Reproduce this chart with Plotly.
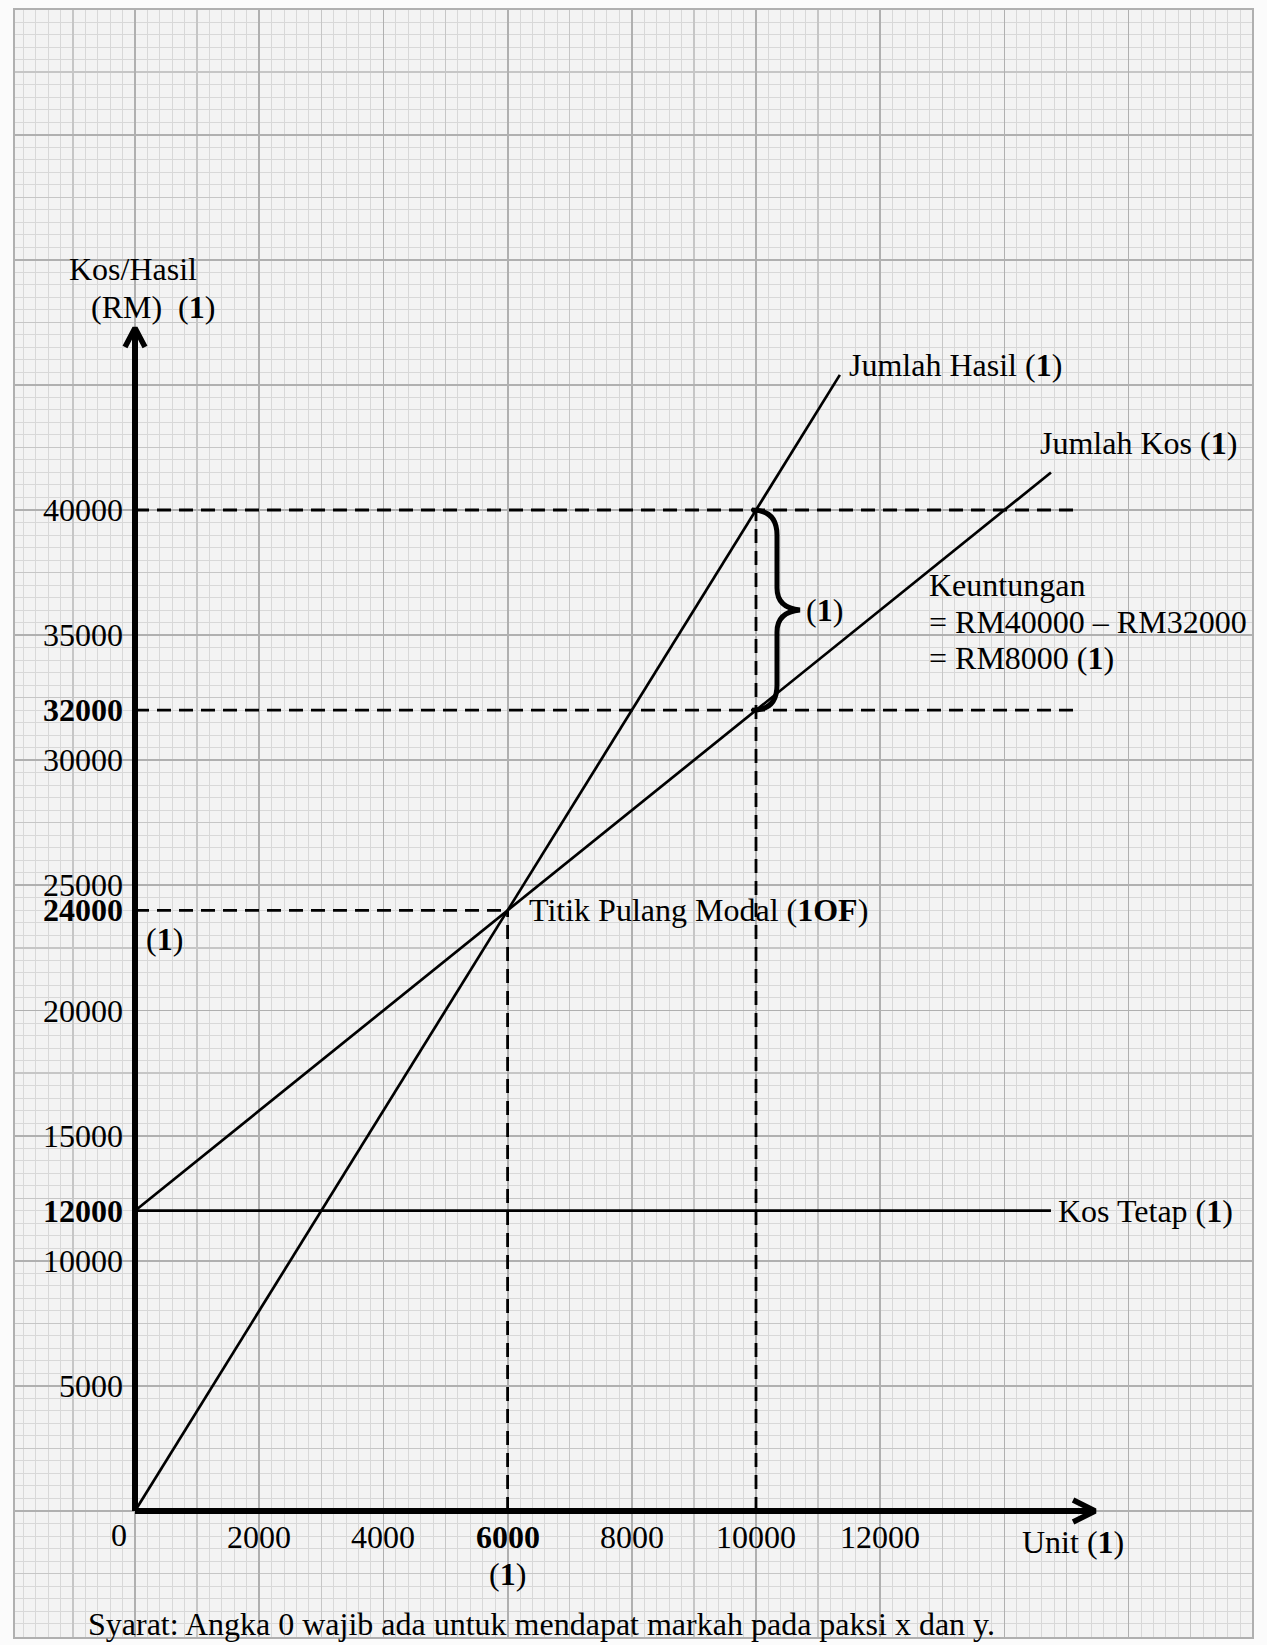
import plotly.graph_objects as go

# ---------------- data ----------------
hasil_x = [0, 11350]          # Jumlah Hasil (RM4 per unit)
hasil_y = [0, 45400]
kos_x = [0, 14750]            # Jumlah Kos
kos_y = [12000, 41500]
tetap_x = [0, 14750]          # Kos Tetap
tetap_y = [12000, 12000]

bep_unit, bep_value = 6000, 24000
sel_unit, sel_hasil, sel_kos = 10000, 40000, 32000
dash_end = 15150
x_axis_end = 15460
y_axis_end = 47270

x_tick_vals = [2000, 4000, 6000, 8000, 10000, 12000]
x_tick_text = ["2000", "4000", "<b>6000</b>", "8000", "10000", "12000"]
y_tick_vals = [5000, 10000, 12000, 15000, 20000, 24000, 25000, 30000, 32000, 35000, 40000]
y_tick_text = ["5000", "10000", "<b>12000</b>", "15000", "20000", "<b>24000</b>",
               "25000", "30000", "<b>32000</b>", "35000", "40000"]

# ---------------- layout geometry ----------------
W, H = 1267, 1645
X0PX, Y0PX = 135, 1511
PX_PER_X = 0.0621
PX_PER_Y = 0.025025
# graph-paper (plot area) edges in pixels
GL, GR, GT, GB = 15, 1252, 10, 1637

def ux(px):  # pixel offset -> data units (x)
    return px / PX_PER_X

def uy(px):  # pixel offset -> data units (y)
    return px / PX_PER_Y

def dx(px):
    return (px - X0PX) / PX_PER_X

def dy(py):
    return (Y0PX - py) / PX_PER_Y

x_range = [dx(GL), dx(GR)]
y_range = [dy(GB), dy(GT)]

FONT = "Liberation Serif"
FS = 32
MINOR_C = "#d8d8d8"
MID_C = "#c6c6c6"
MAJOR_C = "#b0b0b0"
PAPER_BG = "#fbfbfb"
GRID_BG = "#f3f3f3"

fig = go.Figure()

line_style = dict(color="black", width=2.7)
dash_style = dict(color="black", width=2.8, dash="14px,8px")

# dashed guide lines
for xs, ys in [
    ([0, dash_end], [sel_hasil, sel_hasil]),
    ([0, dash_end], [sel_kos, sel_kos]),
    ([0, bep_unit], [bep_value, bep_value]),
    ([bep_unit, bep_unit], [0, bep_value]),
    ([sel_unit, sel_unit], [0, sel_hasil]),
]:
    fig.add_trace(go.Scatter(x=xs, y=ys, mode="lines", line=dash_style, hoverinfo="skip"))

# main lines
fig.add_trace(go.Scatter(x=hasil_x, y=hasil_y, mode="lines", line=line_style, name="Jumlah Hasil"))
fig.add_trace(go.Scatter(x=kos_x, y=kos_y, mode="lines", line=line_style, name="Jumlah Kos"))
fig.add_trace(go.Scatter(x=tetap_x, y=tetap_y, mode="lines", line=line_style, name="Kos Tetap"))

# axes (thick arrows)
axis_style = dict(color="black", width=6)
fig.add_trace(go.Scatter(x=[0, x_axis_end], y=[0, 0], mode="lines", line=axis_style, hoverinfo="skip"))
fig.add_trace(go.Scatter(x=[0, 0], y=[0, y_axis_end], mode="lines", line=axis_style, hoverinfo="skip"))
fig.add_trace(go.Scatter(
    x=[x_axis_end - ux(22), x_axis_end, x_axis_end - ux(22)],
    y=[uy(11), 0, -uy(11)], mode="lines", line=dict(color="black", width=5.5), hoverinfo="skip"))
fig.add_trace(go.Scatter(
    x=[-ux(10), 0, ux(10)],
    y=[y_axis_end - uy(19), y_axis_end, y_axis_end - uy(19)], mode="lines",
    line=dict(color="black", width=5.5), hoverinfo="skip"))

# invisible trace on the heavy-grid overlay axes
fig.add_trace(go.Scatter(x=[0], y=[0], xaxis="x2", yaxis="y2", mode="markers",
                         marker=dict(opacity=0), hoverinfo="skip"))

# curly brace between 40000 and 32000
bx0 = sel_unit + ux(-4)
bx1 = sel_unit + ux(21)
btip = sel_unit + ux(44)
ymid = (sel_hasil + sel_kos) / 2
r = uy(25)
path = (
    f"M {bx0},{sel_hasil} "
    f"Q {bx1},{sel_hasil} {bx1},{sel_hasil - r} "
    f"L {bx1},{ymid + uy(22)} "
    f"Q {bx1},{ymid + uy(2)} {btip},{ymid} "
    f"Q {bx1},{ymid - uy(2)} {bx1},{ymid - uy(22)} "
    f"L {bx1},{sel_kos + r} "
    f"Q {bx1},{sel_kos} {bx0},{sel_kos}"
)

shapes = [
    dict(type="path", path=path, xref="x", yref="y", line=dict(color="black", width=5), layer="above"),
]

annotations = []

def ann(x, y, text, xanchor="center", yanchor="middle", xshift=0, yshift=0, size=FS):
    annotations.append(dict(x=x, y=y, xref="x", yref="y", text=text, showarrow=False,
                            xanchor=xanchor, yanchor=yanchor, xshift=xshift, yshift=yshift,
                            font=dict(family=FONT, size=size, color="black")))

for v, t in zip(y_tick_vals, y_tick_text):
    ann(0, v, t, xanchor="right", xshift=-10)
for v, t in zip(x_tick_vals, x_tick_text):
    ann(v, 0, t, yshift=-26)
ann(0, 0, "0", xshift=-16, yshift=-24)
ann(bep_unit, 0, "(<b>1</b>)", yshift=-63)
ann(0, bep_value, "(<b>1</b>)", xshift=29, yshift=-29)

ann(dx(133), dy(269), "Kos/Hasil")
ann(dx(153), dy(307), "(RM)  (<b>1</b>)")
ann(dx(1073), 0, "Unit (<b>1</b>)", yshift=-31)
ann(hasil_x[1], hasil_y[1], "Jumlah Hasil (<b>1</b>)", xanchor="left", xshift=7, yshift=10)
ann(dx(1038), dy(443), "Jumlah Kos (<b>1</b>)", xanchor="left")
ann(dx(927), dy(585), "Keuntungan", xanchor="left")
ann(dx(927), dy(622), "= RM40000 – RM32000", xanchor="left")
ann(dx(927), dy(658), "= RM8000 (<b>1</b>)", xanchor="left")
ann(btip, ymid, "(<b>1</b>)", xanchor="left", xshift=4)
ann(bep_unit, bep_value, "Titik Pulang Modal (<b>1OF</b>)", xanchor="left", xshift=19)
ann(tetap_x[1], tetap_y[1], "Kos Tetap (<b>1</b>)", xanchor="left", xshift=5)
ann(dx(86), dy(1624), "Syarat: Angka 0 wajib ada untuk mendapat markah pada paksi x dan y.",
    xanchor="left")

common_ax = dict(showticklabels=False, ticks="", zeroline=False, fixedrange=True)

fig.update_layout(
    width=W, height=H, autosize=False,
    margin=dict(l=GL, r=W - GR, t=GT, b=H - GB, pad=0),
    paper_bgcolor=PAPER_BG, plot_bgcolor=GRID_BG,
    showlegend=False,
    xaxis=dict(range=x_range, showgrid=True, gridcolor=MID_C, gridwidth=1.3, tick0=0, dtick=1000,
               minor=dict(showgrid=True, tick0=0, dtick=200, gridcolor=MINOR_C, gridwidth=1),
               showline=True, mirror=True, linecolor=MAJOR_C, linewidth=2,
               **common_ax),
    yaxis=dict(range=y_range, showgrid=True, gridcolor=MID_C, gridwidth=1.3, tick0=0, dtick=2500,
               minor=dict(showgrid=True, tick0=0, dtick=500, gridcolor=MINOR_C, gridwidth=1),
               showline=True, mirror=True, linecolor=MAJOR_C, linewidth=2,
               **common_ax),
    xaxis2=dict(range=x_range, overlaying="x", showgrid=True, gridcolor=MAJOR_C, gridwidth=1.8,
                tick0=0, dtick=2000, showline=False, **common_ax),
    yaxis2=dict(range=y_range, overlaying="y", showgrid=True, gridcolor=MAJOR_C, gridwidth=1.8,
                tick0=0, dtick=5000, showline=False, **common_ax),
    shapes=shapes,
    annotations=annotations,
    font=dict(family=FONT, size=FS, color="black"),
)

fig.write_html("out.html", config={"displayModeBar": False, "staticPlot": True},
               post_script="document.body.style.margin='0px';document.body.style.padding='0px';"
                           "document.body.style.overflow='hidden';")
